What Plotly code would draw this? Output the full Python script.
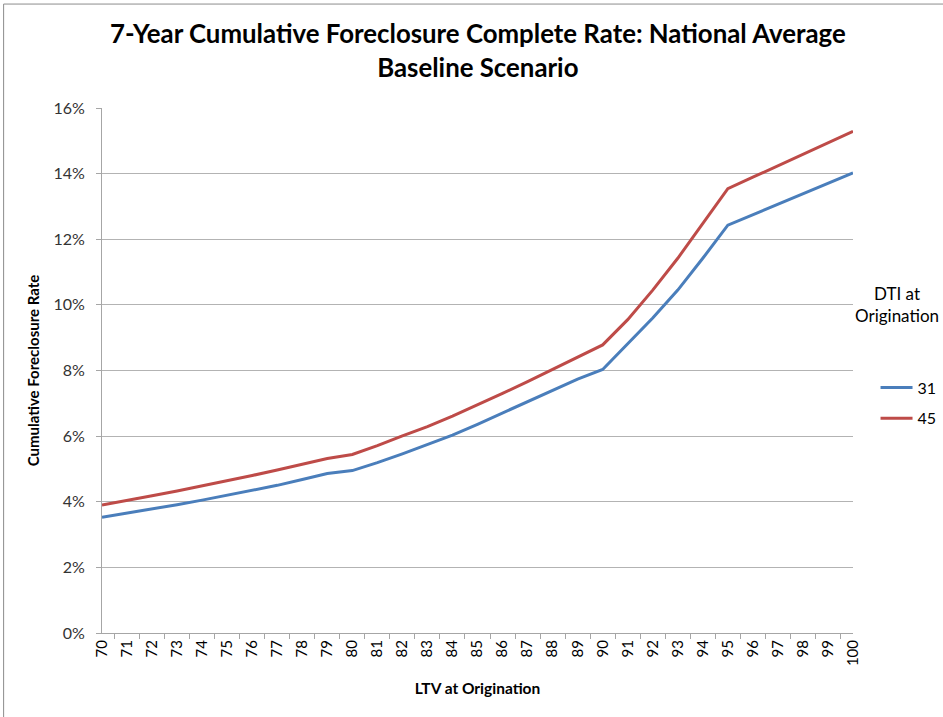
import plotly.graph_objects as go

ltv = [str(v) for v in range(70, 101)]
dti_31 = [3.53, 3.65, 3.78, 3.91, 4.05, 4.20, 4.34, 4.50, 4.68, 4.86, 4.95,
          5.19, 5.46, 5.74, 6.03, 6.36, 6.71, 7.06, 7.41, 7.74, 8.03,
          8.80, 9.60, 10.45, 11.42, 12.43,
          12.75, 13.07, 13.39, 13.71, 14.02]
dti_45 = [3.90, 4.03, 4.18, 4.33, 4.48, 4.65, 4.80, 4.97, 5.15, 5.32, 5.44,
          5.71, 6.01, 6.29, 6.61, 6.95, 7.30, 7.66, 8.04, 8.41, 8.78,
          9.55, 10.45, 11.42, 12.47, 13.54,
          13.89, 14.24, 14.59, 14.94, 15.29]
y_ticks = [0, 2, 4, 6, 8, 10, 12, 14, 16]
y_tick_labels = ["0%", "2%", "4%", "6%", "8%", "10%", "12%", "14%", "16%"]

FONT = "Lato"

fig = go.Figure()
fig.add_trace(go.Scatter(x=ltv, y=dti_31, name="31", mode="lines", legendgroup="a",
                         line=dict(color="#4A7EBB", width=3)))
fig.add_trace(go.Scatter(x=ltv, y=dti_45, name="45", mode="lines", legendgroup="b",
                         line=dict(color="#BE4B48", width=3)))

fig.update_layout(
    width=943, height=717,
    margin=dict(l=102, r=90, t=108, b=84, autoexpand=False),
    paper_bgcolor="white", plot_bgcolor="white",
    font=dict(family=FONT, color="#000000"),
    showlegend=True,
    legend=dict(x=1.03, xanchor="left", y=0.50, yanchor="top",
                font=dict(family=FONT, size=16, color="#000000"),
                bgcolor="rgba(0,0,0,0)", itemwidth=32, tracegroupgap=7),
    xaxis=dict(type="category", tickangle=-90, tickson="boundaries",
               ticks="outside", ticklen=5, tickcolor="#a6a6a6",
               showline=True, linecolor="#a6a6a6", linewidth=1,
               showgrid=False, zeroline=False,
               tickfont=dict(family=FONT, size=15, color="#000000"),
               title=dict(text="<b>LTV at Origination</b>", standoff=18,
                          font=dict(family=FONT, size=15.5, color="#000000"))),
    yaxis=dict(range=[0, 16], tickvals=y_ticks, ticktext=y_tick_labels,
               ticks="outside", ticklen=5, tickcolor="#a6a6a6",
               showline=True, linecolor="#a6a6a6", linewidth=1,
               showgrid=True, gridcolor="#b3b3b3", gridwidth=1,
               zeroline=False, ticklabelstandoff=8,
               tickfont=dict(family=FONT, size=16, color="#333333"),
               title=dict(text="<b>Cumulative Foreclosure Rate</b>", standoff=10,
                          font=dict(family=FONT, size=15, color="#000000"))),
    annotations=[
        dict(text="<b>7-Year Cumulative Foreclosure Complete Rate: National Average<br>Baseline Scenario</b>",
             xref="paper", yref="paper", x=0.5, y=1.11, xanchor="center", yanchor="middle",
             showarrow=False, align="center",
             font=dict(family=FONT, size=25.8, color="#000000")),
        dict(text="DTI at<br>Origination", xref="paper", yref="paper",
             x=1.0586, y=0.625, xanchor="center", yanchor="middle",
             showarrow=False, align="center",
             font=dict(family=FONT, size=17, color="#000000")),
    ],
    shapes=[
        dict(type="line", xref="paper", yref="paper", x0=-0.131, x1=1.2,
             y0=1.198, y1=1.198, line=dict(color="#8c8c8c", width=1)),
        dict(type="line", xref="paper", yref="paper", x0=-0.131, x1=-0.131,
             y0=1.198, y1=-0.2, line=dict(color="#8c8c8c", width=1)),
    ],
)

fig.write_html("out.html")
